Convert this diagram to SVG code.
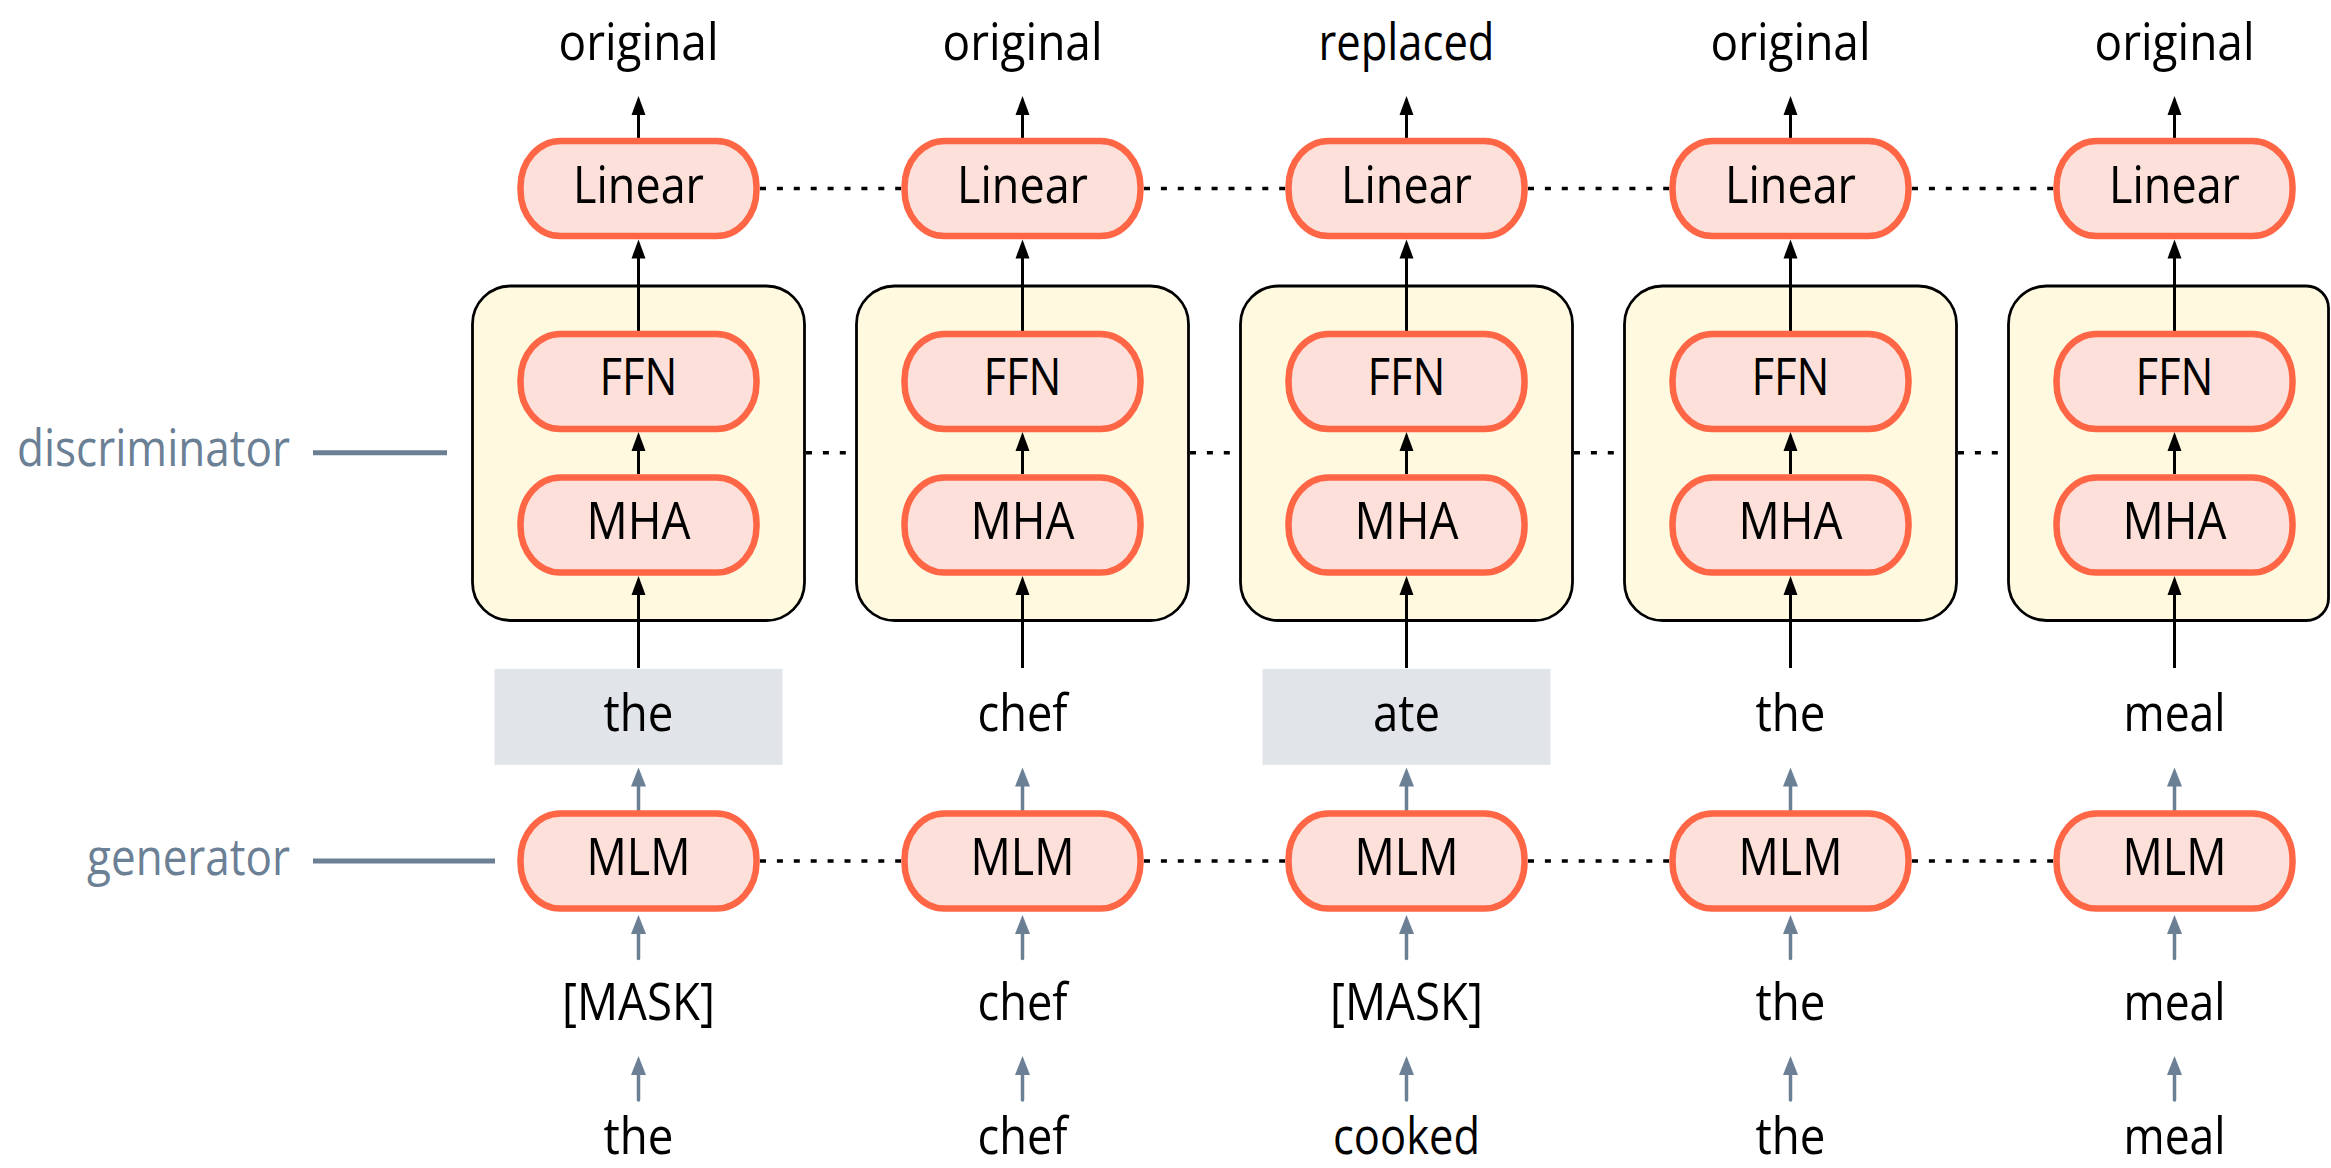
<svg xmlns="http://www.w3.org/2000/svg" width="2331" height="1168" viewBox="0 0 2331 1168">
  <defs>
    <style>
      text { font-family: "Open Sans", "Noto Sans", "Liberation Sans", sans-serif; font-size: 52px; fill: #000; text-anchor: middle; }
      .lbl { fill: #6b7f95; text-anchor: end; }
      .pill { fill: #fde0da; stroke: #ff6645; stroke-width: 6.5; }
      .block { fill: #fef9df; stroke: #000; stroke-width: 2.8; }
      .tok { fill: #e1e4e9; }
      .arr { stroke: #000; stroke-width: 3; fill: none; marker-end: url(#headK); }
      .garr { stroke: #6b7f95; stroke-width: 3.5; stroke-linecap: round; fill: none; marker-end: url(#headG); }
      .dots { stroke: #000; stroke-width: 3.4; stroke-dasharray: 6 10.9; fill: none; }
      .bar { stroke: #6b7f95; stroke-width: 5; fill: none; }
    </style>
    <marker id="headK" markerUnits="userSpaceOnUse" viewBox="0 -8 20 16" markerWidth="20" markerHeight="16" refX="2" refY="0" orient="auto">
      <path d="M0,-7 L19,0 L0,7 Z" fill="#000"/>
    </marker>
    <marker id="headG" markerUnits="userSpaceOnUse" viewBox="0 -8 20 16" markerWidth="20" markerHeight="16" refX="2" refY="0" orient="auto">
      <path d="M0,-7.5 L19,0 L0,7.5 Z" fill="#6b7f95"/>
    </marker>
  </defs>

  <!-- side labels -->
  <g id="label-discriminator">
    <text class="lbl" x="290" y="466" textLength="273" lengthAdjust="spacingAndGlyphs">discriminator</text>
    <line class="bar" x1="313" y1="452.7" x2="447" y2="452.7"/>
  </g>
  <g id="label-generator">
    <text class="lbl" x="290" y="875" textLength="203" lengthAdjust="spacingAndGlyphs">generator</text>
    <line class="bar" x1="313" y1="861" x2="495" y2="861"/>
  </g>

  <!-- transformer blocks -->
  <g id="block-1"><rect class="block" x="472.5" y="286" width="332" height="334.5" rx="38"/></g>
  <g id="block-2"><rect class="block" x="856.5" y="286" width="332" height="334.5" rx="38"/></g>
  <g id="block-3"><rect class="block" x="1240.5" y="286" width="332" height="334.5" rx="38"/></g>
  <g id="block-4"><rect class="block" x="1624.5" y="286" width="332" height="334.5" rx="38"/></g>
  <g id="block-5"><path class="block" d="M2046.5,286 H2306.5 A22,22 0 0 1 2328.5,308 V598.5 A22,22 0 0 1 2306.5,620.5 H2046.5 A38,38 0 0 1 2008.5,582.5 V324 A38,38 0 0 1 2046.5,286 Z"/></g>

  <!-- replaced-token highlights -->
  <g id="tok-hl-1"><rect class="tok" x="494.5" y="668.8" width="288" height="96"/></g>
  <g id="tok-hl-3"><rect class="tok" x="1262.5" y="668.8" width="288" height="96"/></g>

  <!-- connectors -->
  <g id="connectors">
    <!-- weight sharing (dotted) -->
    <line class="dots" x1="760" y1="188.5" x2="901" y2="188.5"/>
    <line class="dots" x1="1144" y1="188.5" x2="1285" y2="188.5"/>
    <line class="dots" x1="1528" y1="188.5" x2="1669" y2="188.5"/>
    <line class="dots" x1="1912" y1="188.5" x2="2053" y2="188.5"/>
    <line class="dots" x1="806" y1="452.7" x2="855" y2="452.7"/>
    <line class="dots" x1="1190" y1="452.7" x2="1239" y2="452.7"/>
    <line class="dots" x1="1574" y1="452.7" x2="1623" y2="452.7"/>
    <line class="dots" x1="1958" y1="452.7" x2="2007" y2="452.7"/>
    <line class="dots" x1="760" y1="861" x2="901" y2="861"/>
    <line class="dots" x1="1144" y1="861" x2="1285" y2="861"/>
    <line class="dots" x1="1528" y1="861" x2="1669" y2="861"/>
    <line class="dots" x1="1912" y1="861" x2="2053" y2="861"/>

    <!-- discriminator flow: token -> MHA -> FFN -> Linear -> output -->
    <line class="arr" x1="638.5" y1="138" x2="638.5" y2="113"/>
    <line class="arr" x1="638.5" y1="331" x2="638.5" y2="256.5"/>
    <line class="arr" x1="638.5" y1="474" x2="638.5" y2="449"/>
    <line class="arr" x1="638.5" y1="668" x2="638.5" y2="593"/>
    <line class="arr" x1="1022.5" y1="138" x2="1022.5" y2="113"/>
    <line class="arr" x1="1022.5" y1="331" x2="1022.5" y2="256.5"/>
    <line class="arr" x1="1022.5" y1="474" x2="1022.5" y2="449"/>
    <line class="arr" x1="1022.5" y1="668" x2="1022.5" y2="593"/>
    <line class="arr" x1="1406.5" y1="138" x2="1406.5" y2="113"/>
    <line class="arr" x1="1406.5" y1="331" x2="1406.5" y2="256.5"/>
    <line class="arr" x1="1406.5" y1="474" x2="1406.5" y2="449"/>
    <line class="arr" x1="1406.5" y1="668" x2="1406.5" y2="593"/>
    <line class="arr" x1="1790.5" y1="138" x2="1790.5" y2="113"/>
    <line class="arr" x1="1790.5" y1="331" x2="1790.5" y2="256.5"/>
    <line class="arr" x1="1790.5" y1="474" x2="1790.5" y2="449"/>
    <line class="arr" x1="1790.5" y1="668" x2="1790.5" y2="593"/>
    <line class="arr" x1="2174.5" y1="138" x2="2174.5" y2="113"/>
    <line class="arr" x1="2174.5" y1="331" x2="2174.5" y2="256.5"/>
    <line class="arr" x1="2174.5" y1="474" x2="2174.5" y2="449"/>
    <line class="arr" x1="2174.5" y1="668" x2="2174.5" y2="593"/>

    <!-- generator flow: input -> [MASK] -> MLM -> sampled token -->
    <line class="garr" x1="638.5" y1="810" x2="638.5" y2="784.5"/>
    <line class="garr" x1="638.5" y1="958.5" x2="638.5" y2="932"/>
    <line class="garr" x1="638.5" y1="1100" x2="638.5" y2="1073"/>
    <line class="garr" x1="1022.5" y1="810" x2="1022.5" y2="784.5"/>
    <line class="garr" x1="1022.5" y1="958.5" x2="1022.5" y2="932"/>
    <line class="garr" x1="1022.5" y1="1100" x2="1022.5" y2="1073"/>
    <line class="garr" x1="1406.5" y1="810" x2="1406.5" y2="784.5"/>
    <line class="garr" x1="1406.5" y1="958.5" x2="1406.5" y2="932"/>
    <line class="garr" x1="1406.5" y1="1100" x2="1406.5" y2="1073"/>
    <line class="garr" x1="1790.5" y1="810" x2="1790.5" y2="784.5"/>
    <line class="garr" x1="1790.5" y1="958.5" x2="1790.5" y2="932"/>
    <line class="garr" x1="1790.5" y1="1100" x2="1790.5" y2="1073"/>
    <line class="garr" x1="2174.5" y1="810" x2="2174.5" y2="784.5"/>
    <line class="garr" x1="2174.5" y1="958.5" x2="2174.5" y2="932"/>
    <line class="garr" x1="2174.5" y1="1100" x2="2174.5" y2="1073"/>
  </g>

  <!-- column 1 -->
  <g id="linear-1"><rect class="pill" x="520.5" y="141" width="236" height="95" rx="40" ry="46"/><text x="638.5" y="203" textLength="131" lengthAdjust="spacingAndGlyphs">Linear</text></g>
  <g id="ffn-1"><rect class="pill" x="520.5" y="334" width="236" height="95" rx="40" ry="46"/><text x="638.5" y="395" textLength="78" lengthAdjust="spacingAndGlyphs">FFN</text></g>
  <g id="mha-1"><rect class="pill" x="520.5" y="477.5" width="236" height="95" rx="40" ry="46"/><text x="638.5" y="539" textLength="104" lengthAdjust="spacingAndGlyphs">MHA</text></g>
  <g id="mlm-1"><rect class="pill" x="520.5" y="813.5" width="236" height="95" rx="40" ry="46"/><text x="638.5" y="875" textLength="104" lengthAdjust="spacingAndGlyphs">MLM</text></g>

  <!-- column 2 -->
  <g id="linear-2"><rect class="pill" x="904.5" y="141" width="236" height="95" rx="40" ry="46"/><text x="1022.5" y="203" textLength="131" lengthAdjust="spacingAndGlyphs">Linear</text></g>
  <g id="ffn-2"><rect class="pill" x="904.5" y="334" width="236" height="95" rx="40" ry="46"/><text x="1022.5" y="395" textLength="78" lengthAdjust="spacingAndGlyphs">FFN</text></g>
  <g id="mha-2"><rect class="pill" x="904.5" y="477.5" width="236" height="95" rx="40" ry="46"/><text x="1022.5" y="539" textLength="104" lengthAdjust="spacingAndGlyphs">MHA</text></g>
  <g id="mlm-2"><rect class="pill" x="904.5" y="813.5" width="236" height="95" rx="40" ry="46"/><text x="1022.5" y="875" textLength="104" lengthAdjust="spacingAndGlyphs">MLM</text></g>

  <!-- column 3 -->
  <g id="linear-3"><rect class="pill" x="1288.5" y="141" width="236" height="95" rx="40" ry="46"/><text x="1406.5" y="203" textLength="131" lengthAdjust="spacingAndGlyphs">Linear</text></g>
  <g id="ffn-3"><rect class="pill" x="1288.5" y="334" width="236" height="95" rx="40" ry="46"/><text x="1406.5" y="395" textLength="78" lengthAdjust="spacingAndGlyphs">FFN</text></g>
  <g id="mha-3"><rect class="pill" x="1288.5" y="477.5" width="236" height="95" rx="40" ry="46"/><text x="1406.5" y="539" textLength="104" lengthAdjust="spacingAndGlyphs">MHA</text></g>
  <g id="mlm-3"><rect class="pill" x="1288.5" y="813.5" width="236" height="95" rx="40" ry="46"/><text x="1406.5" y="875" textLength="104" lengthAdjust="spacingAndGlyphs">MLM</text></g>

  <!-- column 4 -->
  <g id="linear-4"><rect class="pill" x="1672.5" y="141" width="236" height="95" rx="40" ry="46"/><text x="1790.5" y="203" textLength="131" lengthAdjust="spacingAndGlyphs">Linear</text></g>
  <g id="ffn-4"><rect class="pill" x="1672.5" y="334" width="236" height="95" rx="40" ry="46"/><text x="1790.5" y="395" textLength="78" lengthAdjust="spacingAndGlyphs">FFN</text></g>
  <g id="mha-4"><rect class="pill" x="1672.5" y="477.5" width="236" height="95" rx="40" ry="46"/><text x="1790.5" y="539" textLength="104" lengthAdjust="spacingAndGlyphs">MHA</text></g>
  <g id="mlm-4"><rect class="pill" x="1672.5" y="813.5" width="236" height="95" rx="40" ry="46"/><text x="1790.5" y="875" textLength="104" lengthAdjust="spacingAndGlyphs">MLM</text></g>

  <!-- column 5 -->
  <g id="linear-5"><rect class="pill" x="2056.5" y="141" width="236" height="95" rx="40" ry="46"/><text x="2174.5" y="203" textLength="131" lengthAdjust="spacingAndGlyphs">Linear</text></g>
  <g id="ffn-5"><rect class="pill" x="2056.5" y="334" width="236" height="95" rx="40" ry="46"/><text x="2174.5" y="395" textLength="78" lengthAdjust="spacingAndGlyphs">FFN</text></g>
  <g id="mha-5"><rect class="pill" x="2056.5" y="477.5" width="236" height="95" rx="40" ry="46"/><text x="2174.5" y="539" textLength="104" lengthAdjust="spacingAndGlyphs">MHA</text></g>
  <g id="mlm-5"><rect class="pill" x="2056.5" y="813.5" width="236" height="95" rx="40" ry="46"/><text x="2174.5" y="875" textLength="104" lengthAdjust="spacingAndGlyphs">MLM</text></g>

  <!-- discriminator outputs -->
  <g id="out-1"><text x="638.5" y="60" textLength="160" lengthAdjust="spacingAndGlyphs">original</text></g>
  <g id="out-2"><text x="1022.5" y="60" textLength="160" lengthAdjust="spacingAndGlyphs">original</text></g>
  <g id="out-3"><text x="1406.5" y="60" textLength="176" lengthAdjust="spacingAndGlyphs">replaced</text></g>
  <g id="out-4"><text x="1790.5" y="60" textLength="160" lengthAdjust="spacingAndGlyphs">original</text></g>
  <g id="out-5"><text x="2174.5" y="60" textLength="160" lengthAdjust="spacingAndGlyphs">original</text></g>

  <!-- generator outputs / discriminator inputs -->
  <g id="gen-1"><text x="638.5" y="731" textLength="70" lengthAdjust="spacingAndGlyphs">the</text></g>
  <g id="gen-2"><text x="1022.5" y="731" textLength="90" lengthAdjust="spacingAndGlyphs">chef</text></g>
  <g id="gen-3"><text x="1406.5" y="731" textLength="67" lengthAdjust="spacingAndGlyphs">ate</text></g>
  <g id="gen-4"><text x="1790.5" y="731" textLength="70" lengthAdjust="spacingAndGlyphs">the</text></g>
  <g id="gen-5"><text x="2174.5" y="731" textLength="102" lengthAdjust="spacingAndGlyphs">meal</text></g>

  <!-- masked inputs -->
  <g id="mask-1"><text x="638.5" y="1020" textLength="153" lengthAdjust="spacingAndGlyphs">[MASK]</text></g>
  <g id="mask-2"><text x="1022.5" y="1020" textLength="90" lengthAdjust="spacingAndGlyphs">chef</text></g>
  <g id="mask-3"><text x="1406.5" y="1020" textLength="153" lengthAdjust="spacingAndGlyphs">[MASK]</text></g>
  <g id="mask-4"><text x="1790.5" y="1020" textLength="70" lengthAdjust="spacingAndGlyphs">the</text></g>
  <g id="mask-5"><text x="2174.5" y="1020" textLength="102" lengthAdjust="spacingAndGlyphs">meal</text></g>

  <!-- original sentence -->
  <g id="in-1"><text x="638.5" y="1154" textLength="70" lengthAdjust="spacingAndGlyphs">the</text></g>
  <g id="in-2"><text x="1022.5" y="1154" textLength="90" lengthAdjust="spacingAndGlyphs">chef</text></g>
  <g id="in-3"><text x="1406.5" y="1154" textLength="147" lengthAdjust="spacingAndGlyphs">cooked</text></g>
  <g id="in-4"><text x="1790.5" y="1154" textLength="70" lengthAdjust="spacingAndGlyphs">the</text></g>
  <g id="in-5"><text x="2174.5" y="1154" textLength="102" lengthAdjust="spacingAndGlyphs">meal</text></g>
</svg>
